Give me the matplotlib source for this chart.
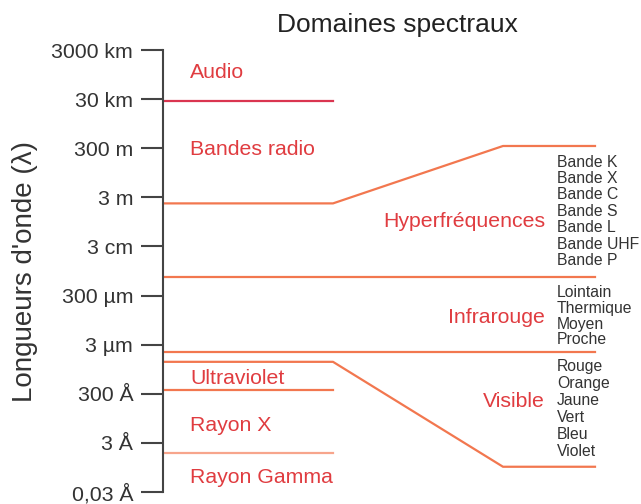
#!/usr/bin/env python
# -*- coding: utf8 -*-
#   spectre.py
#
#   schema des domaines spectraux (longueurs d'onde, echelle log)

import numpy as np
import matplotlib
matplotlib.use("Agg")
import matplotlib.pyplot as plt

# ==============================================================================
# -- donnees -------------------------------------------------------------------
# ==============================================================================
# graduations de l'axe (en metres) et leurs etiquettes
tick_values = [3e6, 3e4, 300, 3, 3e-2, 3e-4, 3e-6, 3e-8, 3e-10, 3e-12]
tick_labels = ['3000 km', '30 km', '300 m', '3 m', '3 cm', '300 µm',
               '3 µm', '300 Å', '3 Å', '0,03 Å']

# limites entre les domaines (m)
lim_audio = 2.4e4
lim_radio = 1.7
lim_hyper_haut = 370.0
lim_hyper_ir = 1.7e-3
lim_ir_visible = 1.5e-6
lim_visible_uv = 6.0e-7
lim_visible_bas = 3.2e-11
lim_uv_x = 4.1e-8
lim_x_gamma = 1.2e-10

# noms des domaines et position (m) de leur etiquette
domaines_gauche = ['Audio', 'Bandes radio', 'Ultraviolet', 'Rayon X', 'Rayon Gamma']
domaines_gauche_y = [3.5e5, 255.0, 1.3e-7, 1.6e-9, 1.2e-11]
domaines_droite = ['Hyperfréquences', 'Infrarouge', 'Visible']
domaines_droite_y = [0.30, 3.7e-5, 1.4e-8]

# sous-domaines
bandes = ['Bande K', 'Bande X', 'Bande C', 'Bande S', 'Bande L', 'Bande UHF', 'Bande P']
infrarouge = ['Lointain', 'Thermique', 'Moyen', 'Proche']
visible = ['Rouge', 'Orange', 'Jaune', 'Vert', 'Bleu', 'Violet']
sous_y = [0.80, 4.4e-5, 7.2e-9]

# ==============================================================================
# -- dessin --------------------------------------------------------------------
# ==============================================================================
plt.rcParams['font.family'] = ['Liberation Sans', 'DejaVu Sans']

ROUGE = '#e03c40'
ORANGE = '#f2774f'
CRAMOISI = '#da3550'
GRIS = '#333333'

fig = plt.figure(figsize=(6.41, 5.04), dpi=100)
ax = fig.add_axes([163 / 641, 12 / 504, 478 / 641, 442 / 504])
ax.set_yscale('log')
ax.set_ylim(3e-12, 3e6)
ax.set_xlim(0, 478)

# abscisses du schema (pixels depuis l'axe)
x0, xb, xs, xr = 2, 170, 340, 432
lw = 1.6

ax.plot([x0, xb], [lim_audio, lim_audio], color=CRAMOISI, lw=lw)
ax.plot([x0, xb, xs, xr], [lim_radio, lim_radio, lim_hyper_haut, lim_hyper_haut],
        color=ORANGE, lw=lw)
ax.plot([x0, xr], [lim_hyper_ir, lim_hyper_ir], color=ORANGE, lw=lw)
ax.plot([x0, xr], [lim_ir_visible, lim_ir_visible], color=ORANGE, lw=lw)
ax.plot([x0, xb, xs, xr], [lim_visible_uv, lim_visible_uv, lim_visible_bas, lim_visible_bas],
        color=ORANGE, lw=lw)
ax.plot([x0, xb], [lim_uv_x, lim_uv_x], color=ORANGE, lw=lw)
ax.plot([x0, xb], [lim_x_gamma, lim_x_gamma], color='#f7a58c', lw=lw)

for nom, yy in zip(domaines_gauche, domaines_gauche_y):
    ax.text(27, yy, nom, color=ROUGE, fontsize=15.3, ha='left', va='center')
for nom, yy in zip(domaines_droite, domaines_droite_y):
    ax.text(382, yy, nom, color=ROUGE, fontsize=15.3, ha='right', va='center')

for lst, yy, ls in zip([bandes, infrarouge, visible], sous_y, [1.12, 1.08, 1.18]):
    ax.text(394, yy, '\n'.join(lst), color=GRIS, fontsize=11.3, ha='left',
            va='center', linespacing=ls)

# axe
for s in ['top', 'right', 'bottom']:
    ax.spines[s].set_visible(False)
ax.spines['left'].set_color('#444444')
ax.spines['left'].set_linewidth(1.5)
ax.set_xticks([])
ax.set_yticks(tick_values)
ax.set_yticklabels(tick_labels)
ax.yaxis.set_minor_locator(matplotlib.ticker.NullLocator())
ax.tick_params(axis='y', length=16, width=1.5, color='#444444', pad=5.5,
               labelsize=15.3, labelcolor=GRIS)

ax.set_ylabel("Longueurs d'onde (λ)", fontsize=20, color=GRIS)
ax.yaxis.set_label_coords(-0.262, 0.5)
ax.set_title('Domaines spectraux', fontsize=19, color='#222222', x=0.49, pad=13)

fig.savefig('out.png', dpi=100)
